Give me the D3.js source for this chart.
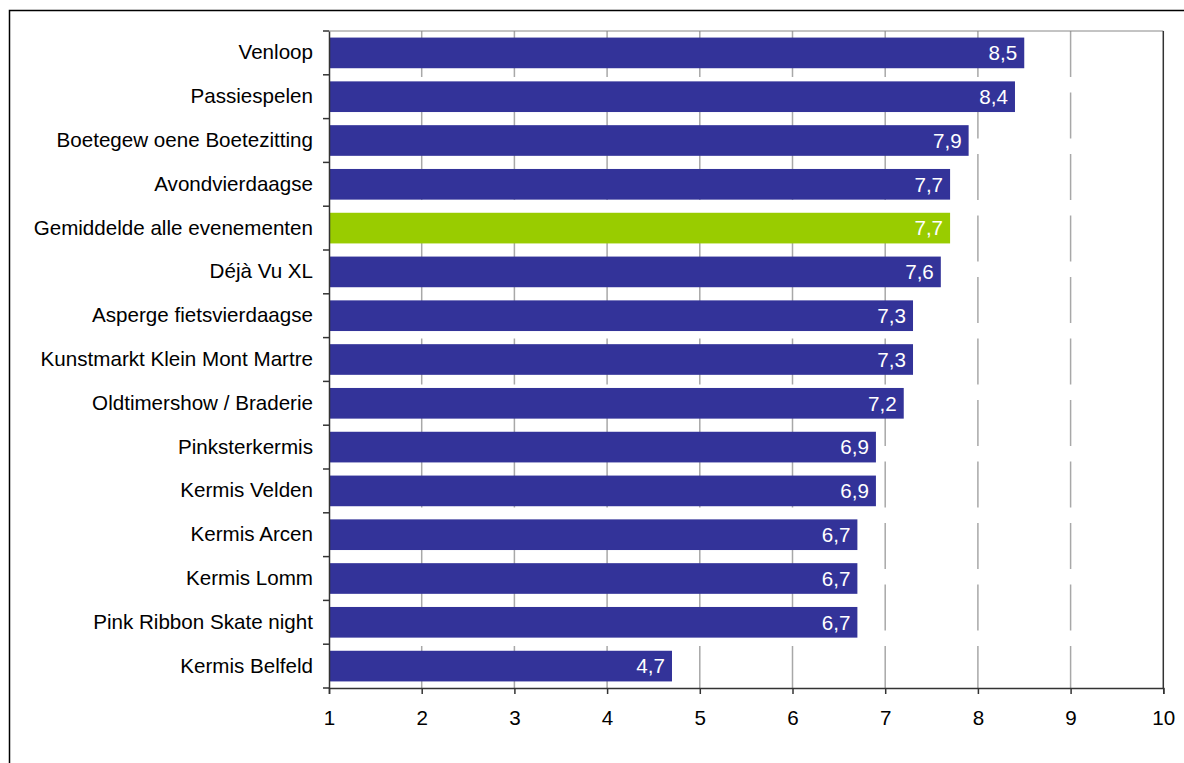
<!DOCTYPE html>
<html>
<head>
<meta charset="utf-8">
<script src="https://cdn.jsdelivr.net/npm/d3@7"></script>
<style>
  html, body { margin: 0; padding: 0; background: #fff; }
  svg { display: block; }
  text { font-family: "Liberation Sans", Arial, sans-serif; }
</style>
</head>
<body>
<svg id="chart" width="1184" height="763"></svg>
<script>
const categories = [
  "Venloop",
  "Passiespelen",
  "Boetegew oene Boetezitting",
  "Avondvierdaagse",
  "Gemiddelde alle evenementen",
  "Déjà Vu XL",
  "Asperge fietsvierdaagse",
  "Kunstmarkt Klein Mont Martre",
  "Oldtimershow / Braderie",
  "Pinksterkermis",
  "Kermis Velden",
  "Kermis Arcen",
  "Kermis Lomm",
  "Pink Ribbon Skate night",
  "Kermis Belfeld"
];
const values = [8.5, 8.4, 7.9, 7.7, 7.7, 7.6, 7.3, 7.3, 7.2, 6.9, 6.9, 6.7, 6.7, 6.7, 4.7];
const valueLabels = ["8,5", "8,4", "7,9", "7,7", "7,7", "7,6", "7,3", "7,3", "7,2", "6,9", "6,9", "6,7", "6,7", "6,7", "4,7"];
const highlight = ["Gemiddelde alle evenementen"];
const xTicks = [1, 2, 3, 4, 5, 6, 7, 8, 9, 10];

(function () {
const svg = d3.select("#chart");
const pLeft = 329, pRight = 1163.3, pTop = 31, pBottom = 688;
const fs = 20.6;

// outer chart border
svg.append("rect")
  .attr("x", 9.5).attr("y", 10.5)
  .attr("width", 1190).attr("height", 800)
  .attr("fill", "none").attr("stroke", "#000").attr("stroke-width", 1.5);

const x = d3.scaleLinear().domain([1, 10]).range([pLeft, pRight]);
const y = d3.scaleBand().domain(categories).range([pTop, pBottom])
  .paddingInner(0.3).paddingOuter(0.15);
const step = y.step();

// gridlines
svg.append("g").selectAll("line")
  .data(xTicks.filter(t => t > 1 && t < 10))
  .join("line")
  .attr("x1", d => x(d)).attr("x2", d => x(d))
  .attr("y1", pTop).attr("y2", pBottom)
  .attr("stroke", "#a8a8a8").attr("stroke-width", 1.5)
  .attr("stroke-dasharray", "46,15.5");

// plot frame top and right
svg.append("line").attr("x1", pLeft).attr("x2", pRight).attr("y1", pTop).attr("y2", pTop)
  .attr("stroke", "#888").attr("stroke-width", 1);
svg.append("line").attr("x1", pRight).attr("x2", pRight).attr("y1", pTop).attr("y2", pBottom)
  .attr("stroke", "#333").attr("stroke-width", 1.5);

// bars
svg.append("g").selectAll("rect")
  .data(categories)
  .join("rect")
  .attr("x", x(1))
  .attr("y", d => y(d))
  .attr("width", (d, i) => x(values[i]) - x(1))
  .attr("height", y.bandwidth())
  .attr("fill", d => highlight.includes(d) ? "#99CC00" : "#333399");

// value labels
svg.append("g").selectAll("text")
  .data(categories)
  .join("text")
  .attr("x", (d, i) => x(values[i]) - 7)
  .attr("y", d => y(d) + y.bandwidth() / 2)
  .attr("dy", "0.35em")
  .attr("text-anchor", "end")
  .attr("fill", "#fff")
  .style("font-size", fs + "px")
  .text((d, i) => valueLabels[i]);

// y axis
const yAxis = d3.axisLeft(y).tickSize(0).tickPadding(16);
const gy = svg.append("g").attr("transform", `translate(${pLeft},0)`).call(yAxis);
gy.select(".domain").attr("stroke", "#333").attr("stroke-width", 1.5);
gy.selectAll("text").style("font-size", fs + "px").attr("fill", "#000")
  .attr("font-family", "Liberation Sans, Arial, sans-serif");
// category boundary ticks
svg.append("g").selectAll("line")
  .data(d3.range(categories.length + 1))
  .join("line")
  .attr("x1", pLeft - 6).attr("x2", pLeft)
  .attr("y1", i => i < categories.length ? y(categories[i]) - step * 0.15 : pBottom)
  .attr("y2", i => i < categories.length ? y(categories[i]) - step * 0.15 : pBottom)
  .attr("stroke", "#333").attr("stroke-width", 1.5);

// x axis
const xAxis = d3.axisBottom(x).tickValues(xTicks).tickSize(6).tickPadding(16.5)
  .tickFormat(d3.format("d"));
const gx = svg.append("g").attr("transform", `translate(0,${pBottom})`).call(xAxis);
gx.select(".domain").attr("stroke", "#333").attr("stroke-width", 1.5);
gx.selectAll(".tick line").attr("stroke", "#333").attr("stroke-width", 1.5);
gx.selectAll("text").style("font-size", fs + "px").attr("fill", "#000")
  .attr("font-family", "Liberation Sans, Arial, sans-serif");
})();
</script>
</body>
</html>
